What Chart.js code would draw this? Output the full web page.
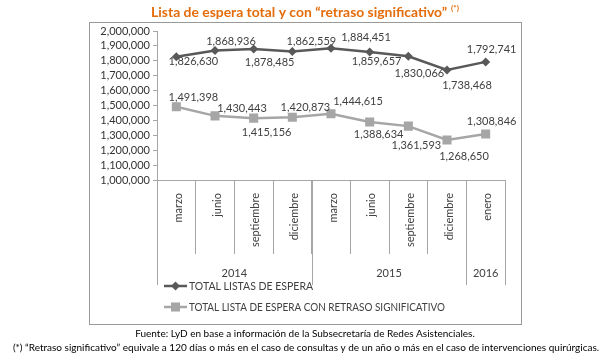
<!DOCTYPE html>
<html>
<head>
<meta charset="utf-8">
<script src="https://cdn.jsdelivr.net/npm/chart.js@4/dist/chart.umd.min.js"></script>
<style>
  body { margin: 0; background: #fff; }
  #wrap { width: 612px; height: 360px; }
</style>
</head>
<body>
<div id="wrap"><canvas id="chart" width="612" height="360"></canvas></div>
<script>
// data
const months = ['marzo', 'junio', 'septiembre', 'diciembre', 'marzo', 'junio', 'septiembre', 'diciembre', 'enero'];
const years = ['2014', '2015', '2016'];
const yearSpans = [4, 4, 1];
const totalEspera = [1826630, 1868936, 1878485, 1862559, 1884451, 1859657, 1830066, 1738468, 1792741];
const conRetraso = [1491398, 1430443, 1415156, 1420873, 1444615, 1388634, 1361593, 1268650, 1308846];
const yMin = 1000000;
const yMax = 2000000;
const yStep = 100000;

// where each value label sits relative to its point (dx, dy)
const labelOffsetsTotal = [[17, 5], [16, -9], [16, 13], [19, -10], [35, -11], [7, 10], [11, 17], [20, 15], [6, -12]];
const labelOffsetsRetraso = [[17, -9], [27, -7], [13, 14], [13, -10], [27, -12], [9, 12], [8, 19], [17, 16], [6, -13]];

const FONT = 'Lato, "Open Sans", sans-serif';
const GRAY_LINE = '#A6A6A6';
const TEXT = '#404040';

function fmt(v) {
  return v.toLocaleString('en-US');
}

const decorations = {
  id: 'decorations',
  beforeDraw(chart) {
    const ctx = chart.ctx;
    ctx.save();
    ctx.fillStyle = '#fff';
    ctx.fillRect(0, 0, chart.width, chart.height);
    ctx.restore();
  },
  afterDatasetsDraw(chart) {
    const ctx = chart.ctx;
    const x = chart.scales.x;
    const area = chart.chartArea;
    ctx.save();

    // outer frame
    ctx.strokeStyle = '#999';
    ctx.lineWidth = 1;
    ctx.strokeRect(89.5, 22.5, 432, 302);

    // title
    ctx.fillStyle = '#E46C0A';
    ctx.textBaseline = 'alphabetic';
    ctx.font = 'bold 14px ' + FONT;
    const mainTitle = 'Lista de espera total y con \u201cretraso significativo\u201d';
    const mainW = Math.min(ctx.measureText(mainTitle).width, 296);
    ctx.font = 'bold 8px ' + FONT;
    const supW = ctx.measureText('(*)').width;
    const tx = 305 - (mainW + 4 + supW) / 2;
    ctx.font = 'bold 14px ' + FONT;
    ctx.textAlign = 'left';
    ctx.fillText(mainTitle, tx, 17, 296);
    ctx.font = 'bold 8px ' + FONT;
    ctx.fillText('(*)', tx + mainW + 4, 11);

    // month labels, rotated
    ctx.fillStyle = TEXT;
    ctx.font = '11px ' + FONT;
    months.forEach((m, i) => {
      const px = x.getPixelForValue(i) + 2;
      ctx.save();
      ctx.translate(px, area.bottom + 13);
      ctx.rotate(-Math.PI / 2);
      ctx.textAlign = 'right';
      ctx.textBaseline = 'middle';
      ctx.fillText(m, 0, 0);
      ctx.restore();
    });

    // year groups: dividers and labels
    const half = (x.getPixelForValue(1) - x.getPixelForValue(0)) / 2;
    ctx.strokeStyle = GRAY_LINE;
    ctx.textAlign = 'center';
    ctx.textBaseline = 'middle';
    let start = 0;
    years.forEach((yr, g) => {
      const end = start + yearSpans[g] - 1;
      const left = x.getPixelForValue(start) - half;
      const right = x.getPixelForValue(end) + half;
      [left, right].forEach(lx => {
        ctx.beginPath();
        ctx.moveTo(Math.round(lx) + 0.5, area.bottom);
        ctx.lineTo(Math.round(lx) + 0.5, area.bottom + 105);
        ctx.stroke();
      });
      ctx.fillText(yr, (left + right) / 2, area.bottom + 93);
      start = end + 1;
    });

    // value labels
    ctx.font = '11px ' + FONT;
    ctx.fillStyle = TEXT;
    const offsets = [labelOffsetsTotal, labelOffsetsRetraso];
    chart.data.datasets.forEach((ds, d) => {
      const meta = chart.getDatasetMeta(d);
      meta.data.forEach((pt, i) => {
        const [dx, dy] = offsets[d][i];
        ctx.fillText(fmt(ds.data[i]), pt.x + dx, pt.y + dy);
      });
    });

    // legend, stacked
    const legendRows = [
      { text: 'TOTAL LISTAS DE ESPERA', color: '#595959', style: 'rectRot', r: 4.5, y: 286 },
      { text: 'TOTAL LISTA DE ESPERA CON RETRASO SIGNIFICATIVO', color: GRAY_LINE, style: 'rect', r: 6.4, y: 307 }
    ];
    legendRows.forEach(row => {
      ctx.strokeStyle = row.color;
      ctx.lineWidth = 2.5;
      ctx.beginPath();
      ctx.moveTo(164, row.y);
      ctx.lineTo(187, row.y);
      ctx.stroke();
      ctx.fillStyle = row.color;
      Chart.helpers.drawPoint(ctx, { pointStyle: row.style, radius: row.r, borderWidth: 0 }, 175.5, row.y);
      ctx.fillStyle = TEXT;
      ctx.font = '10.5px ' + FONT;
      ctx.textAlign = 'left';
      ctx.fillText(row.text, 189, row.y + 0.5, row.style === 'rect' ? 256 : 999);
    });

    // footnotes below the frame
    ctx.fillStyle = '#000';
    ctx.textAlign = 'center';
    ctx.font = '10px ' + FONT;
    ctx.fillText('Fuente: LyD en base a informaci\u00f3n de la Subsecretar\u00eda de Redes Asistenciales.', 305, 334, 366);
    ctx.fillText('(*) \u201cRetraso significativo\u201d equivale a 120 d\u00edas o m\u00e1s en el caso de consultas y de un a\u00f1o o m\u00e1s en el caso de intervenciones quir\u00fargicas.', 306, 348, 606);

    ctx.restore();
  }
};

new Chart(document.getElementById('chart'), {
  type: 'line',
  data: {
    labels: months,
    datasets: [
      {
        label: 'TOTAL LISTAS DE ESPERA',
        data: totalEspera,
        borderColor: '#595959',
        backgroundColor: '#595959',
        borderWidth: 2.5,
        pointStyle: 'rectRot',
        pointRadius: 4.5,
        pointBorderWidth: 0,
        tension: 0
      },
      {
        label: 'TOTAL LISTA DE ESPERA CON RETRASO SIGNIFICATIVO',
        data: conRetraso,
        borderColor: GRAY_LINE,
        backgroundColor: GRAY_LINE,
        borderWidth: 2.5,
        pointStyle: 'rect',
        pointRadius: 6.4,
        pointBorderWidth: 0,
        tension: 0
      }
    ]
  },
  options: {
    responsive: false,
    animation: false,
    devicePixelRatio: 1,
    layout: { padding: { left: 97, right: 107, top: 31, bottom: 106 } },
    plugins: {
      legend: { display: false },
      tooltip: { enabled: false },
      title: { display: false }
    },
    scales: {
      x: {
        offset: true,
        border: { color: GRAY_LINE },
        grid: { offset: true, drawOnChartArea: false, drawTicks: true, tickLength: 74, color: GRAY_LINE },
        ticks: { display: false },
        afterFit(s) { s.height = 74; }
      },
      y: {
        min: yMin,
        max: yMax,
        border: { color: GRAY_LINE },
        grid: { drawOnChartArea: false, drawTicks: true, tickLength: 4, color: GRAY_LINE },
        ticks: {
          stepSize: yStep,
          autoSkip: false,
          padding: 3,
          color: '#333',
          font: { family: FONT, size: 11 },
          callback: v => fmt(v)
        },
        afterFit(s) { s.width = 60; }
      }
    }
  },
  plugins: [decorations]
});
</script>
</body>
</html>
